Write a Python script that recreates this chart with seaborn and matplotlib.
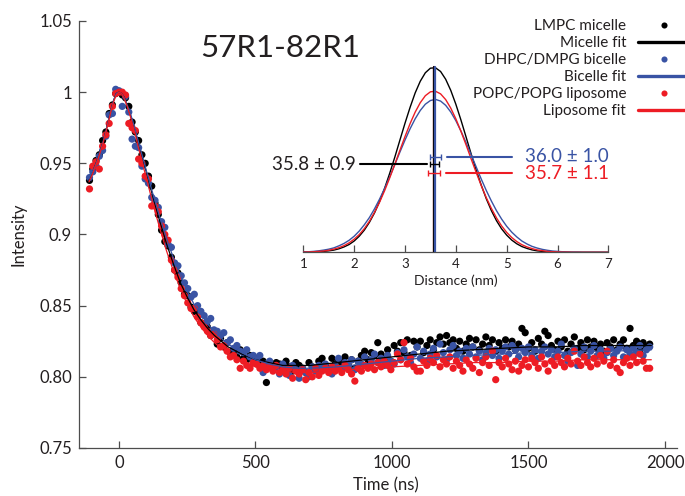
import numpy as np
import pandas as pd
import matplotlib
matplotlib.use("Agg")
import matplotlib.pyplot as plt
import seaborn as sns
from matplotlib.lines import Line2D

# ---------------- data ----------------
time_start = -108   # ns, first sample
time_step = 12      # ns between samples

lmpc_micelle = [
    0.938, 0.946, 0.952, 0.956, 0.966, 0.972, 0.985, 0.991, 0.999, 1.000, 0.998, 0.996,
    0.990, 0.979, 0.972, 0.966, 0.956, 0.950, 0.941, 0.934, 0.922, 0.914, 0.903, 0.895,
    0.892, 0.884, 0.875, 0.873, 0.866, 0.858, 0.857, 0.849, 0.846, 0.845, 0.838, 0.836,
    0.835, 0.829, 0.832, 0.823, 0.827, 0.821, 0.824, 0.817, 0.818, 0.814, 0.819, 0.813,
    0.812, 0.815, 0.810, 0.813, 0.809, 0.811, 0.796, 0.808, 0.806, 0.810, 0.809, 0.806,
    0.811, 0.807, 0.804, 0.810, 0.808, 0.806, 0.803, 0.810, 0.807, 0.805, 0.811, 0.813,
    0.808, 0.806, 0.813, 0.809, 0.812, 0.810, 0.814, 0.808, 0.812, 0.806, 0.811, 0.815,
    0.818, 0.812, 0.817, 0.815, 0.824, 0.816, 0.813, 0.819, 0.811, 0.822, 0.818, 0.824,
    0.817, 0.826, 0.815, 0.825, 0.821, 0.825, 0.817, 0.822, 0.826, 0.819, 0.824, 0.828,
    0.823, 0.829, 0.824, 0.826, 0.820, 0.825, 0.818, 0.823, 0.827, 0.821, 0.826, 0.819,
    0.823, 0.828, 0.822, 0.826, 0.818, 0.824, 0.820, 0.826, 0.821, 0.825, 0.819, 0.823,
    0.834, 0.831, 0.820, 0.824, 0.818, 0.827, 0.823, 0.832, 0.829, 0.822, 0.819, 0.825,
    0.821, 0.826, 0.818, 0.823, 0.828, 0.820, 0.824, 0.819, 0.826, 0.821, 0.825, 0.820,
    0.823, 0.818, 0.824, 0.821, 0.826, 0.819, 0.823, 0.826, 0.820, 0.834, 0.822, 0.825,
    0.819, 0.824, 0.821, 0.823,
]

dhpc_bicelle = [
    0.940, 0.944, 0.948, 0.955, 0.959, 0.969, 0.984, 0.985, 1.002, 1.001, 0.990, 0.997,
    0.986, 0.967, 0.962, 0.961, 0.948, 0.939, 0.936, 0.926, 0.924, 0.919, 0.909, 0.905,
    0.893, 0.891, 0.880, 0.878, 0.871, 0.866, 0.862, 0.856, 0.858, 0.850, 0.846, 0.843,
    0.839, 0.841, 0.833, 0.832, 0.829, 0.831, 0.824, 0.826, 0.820, 0.822, 0.818, 0.817,
    0.819, 0.814, 0.815, 0.812, 0.815, 0.803, 0.809, 0.811, 0.805, 0.807, 0.802, 0.809,
    0.806, 0.801, 0.808, 0.805, 0.799, 0.806, 0.803, 0.800, 0.807, 0.804, 0.808, 0.806,
    0.809, 0.805, 0.802, 0.808, 0.813, 0.806, 0.810, 0.808, 0.812, 0.805, 0.811, 0.809,
    0.814, 0.807, 0.812, 0.816, 0.810, 0.813, 0.808, 0.815, 0.811, 0.809, 0.817, 0.812,
    0.819, 0.814, 0.810, 0.816, 0.821, 0.813, 0.818, 0.811, 0.816, 0.820, 0.814, 0.823,
    0.817, 0.812, 0.819, 0.822, 0.815, 0.818, 0.813, 0.820, 0.816, 0.821, 0.814, 0.818,
    0.812, 0.817, 0.820, 0.815, 0.819, 0.813, 0.818, 0.821, 0.816, 0.822, 0.819, 0.814,
    0.820, 0.817, 0.821, 0.815, 0.819, 0.813, 0.818, 0.821, 0.816, 0.819, 0.814, 0.818,
    0.823, 0.815, 0.811, 0.817, 0.820, 0.808, 0.816, 0.821, 0.814, 0.818, 0.822, 0.815,
    0.819, 0.813, 0.817, 0.820, 0.815, 0.818, 0.821, 0.814, 0.819, 0.816, 0.820, 0.817,
    0.822, 0.815, 0.819, 0.821,
]

popc_liposome = [
    0.932, 0.948, 0.951, 0.946, 0.962, 0.970, 0.978, 0.990, 0.999, 1.000, 1.000, 0.998,
    0.978, 0.975, 0.973, 0.953, 0.950, 0.941, 0.939, 0.920, 0.920, 0.916, 0.906, 0.900,
    0.896, 0.882, 0.875, 0.870, 0.862, 0.857, 0.852, 0.848, 0.848, 0.842, 0.838, 0.835,
    0.832, 0.829, 0.830, 0.826, 0.821, 0.822, 0.818, 0.814, 0.815, 0.812, 0.806, 0.811,
    0.808, 0.806, 0.810, 0.809, 0.806, 0.808, 0.805, 0.807, 0.804, 0.808, 0.803, 0.805,
    0.802, 0.806, 0.799, 0.804, 0.802, 0.805, 0.798, 0.803, 0.800, 0.806, 0.801, 0.804,
    0.806, 0.803, 0.807, 0.804, 0.806, 0.803, 0.808, 0.805, 0.802, 0.797, 0.806, 0.804,
    0.808, 0.806, 0.809, 0.805, 0.810, 0.807, 0.811, 0.808, 0.805, 0.810, 0.816, 0.812,
    0.824, 0.809, 0.813, 0.807, 0.804, 0.804, 0.811, 0.808, 0.813, 0.810, 0.815, 0.807,
    0.812, 0.809, 0.814, 0.806, 0.811, 0.808, 0.804, 0.812, 0.809, 0.806, 0.813, 0.803,
    0.810, 0.814, 0.808, 0.818, 0.798, 0.810, 0.807, 0.813, 0.809, 0.805, 0.811, 0.804,
    0.808, 0.812, 0.807, 0.813, 0.810, 0.806, 0.814, 0.809, 0.804, 0.811, 0.808, 0.814,
    0.810, 0.807, 0.813, 0.809, 0.818, 0.811, 0.808, 0.814, 0.810, 0.807, 0.813, 0.809,
    0.815, 0.811, 0.818, 0.808, 0.812, 0.806, 0.803, 0.810, 0.813, 0.808, 0.814, 0.810,
    0.816, 0.811, 0.806, 0.806,
]

fit_time = [-110, -100, -90, -80, -70, -60, -50, -40, -30, -20, -10, 0, 10, 20, 30, 40,
            50, 60, 70, 80, 90, 100, 125, 150, 175, 200, 225, 250, 275, 300, 325, 350,
            375, 400, 450, 500, 550, 600, 650, 700, 800, 900, 1000, 1100, 1200, 1300,
            1400, 1500, 1600, 1700, 1800, 1950]
micelle_fit = [0.938, 0.942, 0.947, 0.952, 0.958, 0.964, 0.971, 0.979, 0.987, 0.994, 0.999,
               1.000, 0.999, 0.996, 0.991, 0.985, 0.979, 0.972, 0.965, 0.958, 0.951, 0.944,
               0.926, 0.909, 0.893, 0.879, 0.866, 0.856, 0.847, 0.840, 0.834, 0.829, 0.825,
               0.821, 0.816, 0.812, 0.810, 0.808, 0.808, 0.808, 0.810, 0.812, 0.814, 0.816,
               0.818, 0.819, 0.820, 0.821, 0.821, 0.822, 0.822, 0.822]
bicelle_fit = [0.939, 0.943, 0.947, 0.952, 0.958, 0.964, 0.971, 0.979, 0.987, 0.994, 0.999,
               1.000, 0.999, 0.996, 0.991, 0.986, 0.980, 0.973, 0.966, 0.959, 0.952, 0.945,
               0.928, 0.912, 0.897, 0.883, 0.871, 0.860, 0.851, 0.844, 0.837, 0.832, 0.827,
               0.823, 0.817, 0.812, 0.809, 0.807, 0.806, 0.806, 0.807, 0.809, 0.811, 0.813,
               0.814, 0.815, 0.816, 0.817, 0.817, 0.818, 0.818, 0.819]
liposome_fit = [0.937, 0.941, 0.946, 0.951, 0.957, 0.963, 0.970, 0.978, 0.986, 0.993, 0.998,
                1.000, 0.999, 0.995, 0.990, 0.984, 0.977, 0.970, 0.962, 0.955, 0.947, 0.940,
                0.921, 0.904, 0.888, 0.874, 0.862, 0.851, 0.842, 0.835, 0.829, 0.824, 0.820,
                0.816, 0.811, 0.807, 0.805, 0.804, 0.803, 0.803, 0.804, 0.806, 0.807, 0.808,
                0.809, 0.810, 0.810, 0.811, 0.811, 0.812, 0.812, 0.812]

# distance distributions (inset), sampled every 0.1 nm from 1.0 to 7.0 nm
dist_start, dist_step = 1.0, 0.1
p_micelle = [0.001, 0.001, 0.002, 0.003, 0.005, 0.008, 0.012, 0.019, 0.029, 0.042,
             0.061, 0.087, 0.120, 0.162, 0.213, 0.275, 0.347, 0.428, 0.515, 0.607,
             0.698, 0.784, 0.862, 0.925, 0.971, 0.996, 0.998, 0.978, 0.936, 0.876,
             0.801, 0.716, 0.625, 0.533, 0.445, 0.363, 0.289, 0.225, 0.171, 0.127,
             0.093, 0.066, 0.046, 0.031, 0.021, 0.013, 0.008, 0.005, 0.003, 0.002,
             0.001, 0.001, 0, 0, 0, 0, 0, 0, 0, 0, 0]
p_bicelle = [0.002, 0.003, 0.005, 0.008, 0.012, 0.017, 0.024, 0.035, 0.048, 0.065,
             0.087, 0.115, 0.149, 0.188, 0.235, 0.288, 0.346, 0.409, 0.475, 0.542,
             0.607, 0.668, 0.722, 0.767, 0.801, 0.821, 0.827, 0.818, 0.795, 0.759,
             0.712, 0.656, 0.594, 0.528, 0.462, 0.396, 0.334, 0.277, 0.225, 0.180,
             0.141, 0.109, 0.083, 0.061, 0.045, 0.032, 0.023, 0.016, 0.011, 0.007,
             0.005, 0.003, 0.002, 0.001, 0.001, 0, 0, 0, 0, 0, 0]
p_liposome = [0.001, 0.002, 0.003, 0.005, 0.007, 0.011, 0.017, 0.025, 0.036, 0.051,
              0.071, 0.096, 0.128, 0.168, 0.216, 0.271, 0.334, 0.403, 0.476, 0.552,
              0.626, 0.696, 0.758, 0.809, 0.847, 0.868, 0.871, 0.857, 0.826, 0.780,
              0.722, 0.655, 0.582, 0.506, 0.432, 0.361, 0.295, 0.237, 0.186, 0.143,
              0.108, 0.080, 0.058, 0.041, 0.029, 0.020, 0.013, 0.009, 0.005, 0.003,
              0.002, 0.001, 0.001, 0, 0, 0, 0, 0, 0, 0, 0]

dist_names = ["micelle", "bicelle", "liposome"]
dist_labels = ["35.8 \u00b1 0.9", "36.0 \u00b1 1.0", "35.7 \u00b1 1.1"]
dist_means = [3.58, 3.60, 3.57]      # nm
dist_errors = [0.09, 0.10, 0.11]     # nm
dist_levels = [0.476, 0.517, 0.427]  # height of the error bars in the inset
peak_lines = [3.58, 3.595, 3.565]    # vertical markers

series_labels = ["LMPC micelle", "DHPC/DMPG bicelle", "POPC/POPG liposome"]
fit_labels = ["Micelle fit", "Bicelle fit", "Liposome fit"]
colors = ["#000000", "#3953a4", "#ed1c24"]

x_ticks = [0, 500, 1000, 1500, 2000]
y_ticks = [0.75, 0.80, 0.85, 0.9, 0.95, 1.0, 1.05]
y_tick_labels = ["0.75", "0.80", "0.85", "0.9", "0.95", "1", "1.05"]
inset_ticks = [1, 2, 3, 4, 5, 6, 7]

# ---------------- figure ----------------
sns.set_style("ticks")
plt.rcParams["font.family"] = ["Lato", "DejaVu Sans"]
text_color = "#231f20"
spine_color = "#4d4d4d"

fig = plt.figure(figsize=(6.85, 4.96), dpi=100)
ax = fig.add_axes([0.1153, 0.0968, 0.8730, 0.8609])

time = time_start + time_step * np.arange(len(lmpc_micelle))
points = pd.concat([
    pd.DataFrame({"time": time, "intensity": vals, "sample": name})
    for vals, name in zip([lmpc_micelle, dhpc_bicelle, popc_liposome], series_labels)
])
fits = pd.concat([
    pd.DataFrame({"time": fit_time, "intensity": vals, "fit": name})
    for vals, name in zip([micelle_fit, bicelle_fit, liposome_fit], fit_labels)
])

sns.scatterplot(data=points, x="time", y="intensity", hue="sample",
                palette=dict(zip(series_labels, colors)), s=27, linewidth=0,
                legend=False, ax=ax, zorder=2)
sns.lineplot(data=fits, x="time", y="intensity", hue="fit",
             palette=dict(zip(fit_labels, colors)), linewidth=0.9,
             legend=False, ax=ax, zorder=3, sort=False)

ax.set_xlim(-146.5, 2044)
ax.set_ylim(0.75, 1.05)
ax.set_xticks(x_ticks)
ax.set_yticks(y_ticks)
ax.set_yticklabels(y_tick_labels)
ax.tick_params(direction="in", length=5, width=0.9, color=spine_color,
               labelsize=12, labelcolor=text_color, pad=5)
for side in ["top", "right"]:
    ax.spines[side].set_visible(False)
for side in ["left", "bottom"]:
    ax.spines[side].set_color(spine_color)
    ax.spines[side].set_linewidth(0.9)

ax.set_xlabel("Time (ns)", fontsize=12, color=text_color)
ax.set_ylabel("Intensity", fontsize=12, color=text_color)
ax.xaxis.set_label_coords(0.513, -0.068)
ax.yaxis.set_label_coords(-0.088, 0.5)

ax.text(0.2035, 0.915, "57R1-82R1", transform=ax.transAxes, fontsize=22.5,
        color=text_color, ha="left", va="baseline")

# legend (text left of handle, as in the original)
handles = []
labels = []
for c, sl, fl in zip(colors, series_labels, fit_labels):
    handles.append(Line2D([], [], linestyle="none", marker="o", markersize=4.4,
                          markerfacecolor=c, markeredgewidth=0))
    labels.append(sl)
    handles.append(Line2D([], [], color=c, linewidth=2.4))
    labels.append(fl)
fig.legend(handles, labels, loc="upper right", bbox_to_anchor=(1.0088, 0.962),
           frameon=False, markerfirst=False, fontsize=11, handlelength=3.5,
           handletextpad=0.75, labelspacing=0.2, borderpad=0, borderaxespad=0,
           labelcolor=text_color)

# ---------------- inset ----------------
axi = fig.add_axes([0.4428, 0.4913, 0.4453, 0.3877])
axi.patch.set_alpha(0)
distance = np.round(dist_start + dist_step * np.arange(len(p_micelle)), 2)
dists = pd.concat([
    pd.DataFrame({"distance": distance, "P": vals, "sample": name})
    for vals, name in zip([p_micelle, p_bicelle, p_liposome], dist_names)
])
sns.lineplot(data=dists, x="distance", y="P", hue="sample",
             palette=dict(zip(dist_names, colors)), linewidth=1.0,
             legend=False, ax=axi, sort=False)

for xv, c in zip([peak_lines[2], peak_lines[0], peak_lines[1]],
                 [colors[2], colors[0], colors[1]]):
    axi.plot([xv, xv], [0, 1.0], color=c, linewidth=1.6, zorder=4)

for m, e, lvl, c in zip(dist_means, dist_errors, dist_levels, colors):
    axi.errorbar([m], [lvl], xerr=[e], fmt="none", ecolor=c, elinewidth=1.0,
                 capsize=2.2, capthick=1.0, zorder=5)

# leader lines and labels
axi.plot([2.11, 3.43], [dist_levels[0]] * 2, color=colors[0], linewidth=1.5, zorder=5)
axi.plot([3.82, 5.11], [dist_levels[1]] * 2, color=colors[1], linewidth=1.5, zorder=5)
axi.plot([3.81, 5.10], [dist_levels[2]] * 2, color=colors[2], linewidth=1.5, zorder=5)
axi.text(2.03, dist_levels[0], dist_labels[0], ha="right", va="center",
         fontsize=13.5, color=text_color)
axi.text(5.36, dist_levels[1], dist_labels[1], ha="left", va="center",
         fontsize=13.5, color=colors[1])
axi.text(5.36, dist_levels[2], dist_labels[2], ha="left", va="center",
         fontsize=13.5, color=colors[2])

axi.set_xlim(1, 7)
axi.set_ylim(0, 1.04)
axi.set_xticks(inset_ticks)
axi.set_yticks([])
axi.tick_params(axis="x", direction="in", length=5, width=0.9, color=spine_color,
                labelsize=9.5, labelcolor=text_color, pad=4)
for side in ["top", "right", "left"]:
    axi.spines[side].set_visible(False)
axi.spines["bottom"].set_color(spine_color)
axi.spines["bottom"].set_linewidth(0.9)
axi.set_xlabel("Distance (nm)", fontsize=10, color=text_color, labelpad=3)
axi.set_ylabel("")

fig.savefig("out.png", dpi=100)
